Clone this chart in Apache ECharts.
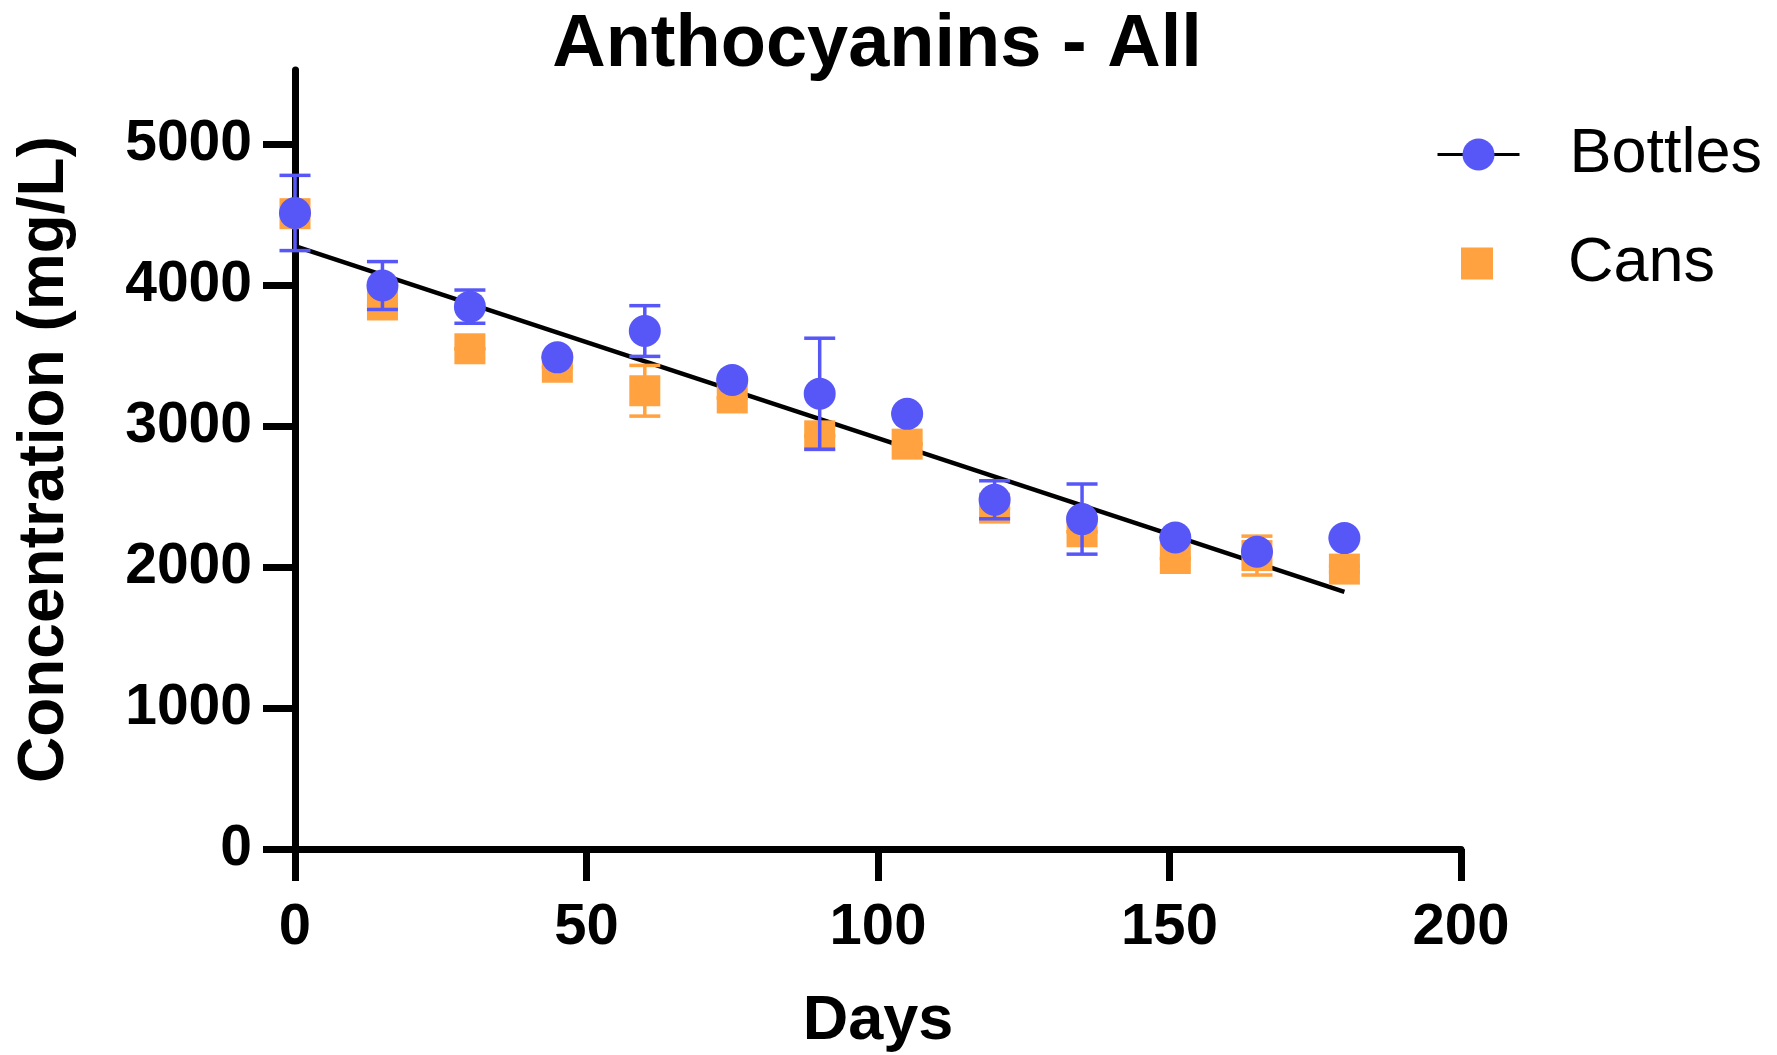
<!DOCTYPE html>
<html>
<head>
<meta charset="utf-8">
<title>Anthocyanins - All</title>
<script src="https://cdn.jsdelivr.net/npm/echarts@6/dist/echarts.min.js"></script>
<style>
html, body { margin: 0; padding: 0; background: #fff; }
#chart { width: 1777px; height: 1055px; }
</style>
</head>
<body>
<div id="chart"></div>
<script>
// sampling days and measured means / error bars (mg/L)
var days = [0, 15, 30, 45, 60, 75, 90, 105, 120, 135, 151, 165, 180];
var bottlesMean = [4515, 4000, 3850, 3490, 3677, 3330, 3232, 3089, 2479, 2342, 2211, 2111, 2207];
var bottlesErr = [267, 170, 118, 0, 180, 0, 394, 0, 135, 249, 0, 0, 0];
var cansMean = [4510, 3862, 3551, 3420, 3253, 3202, 2933, 2874, 2420, 2252, 2062, 2083, 1987];
var cansErr = [0, 0, 0, 0, 180, 0, 0, 0, 0, 0, 0, 138, 20];
// linear fit end points
var fitDays = [0, 180];
var fitValues = [4280, 1825];
var yTicks = [0, 1000, 2000, 3000, 4000, 5000];

var FONT = "'Liberation Sans', Arial, sans-serif";
var BLUE = '#5757F7';
var ORANGE = '#FFA23F';

function pairs(xs, ys) {
  return xs.map(function(x, i) { return [x, ys[i]]; });
}

// error bars drawn through the axes scales
function errorBars(mean, err, color, z) {
  var rows = days.map(function(d, i) { return [d, mean[i] - err[i], mean[i] + err[i]]; });
  return {
    type: 'custom',
    silent: true,
    z: z,
    data: rows,
    encode: { x: 0, y: [1, 2] },
    renderItem: function(params, api) {
      var x = api.value(0);
      var lo = api.coord([x, api.value(1)]);
      var hi = api.coord([x, api.value(2)]);
      var half = 15.5;
      var style = { stroke: color, lineWidth: 3.5 };
      return {
        type: 'group',
        children: [
          { type: 'line', shape: { x1: lo[0], y1: lo[1], x2: hi[0], y2: hi[1] }, style: style },
          { type: 'line', shape: { x1: lo[0] - half, y1: lo[1], x2: lo[0] + half, y2: lo[1] }, style: style },
          { type: 'line', shape: { x1: hi[0] - half, y1: hi[1], x2: hi[0] + half, y2: hi[1] }, style: style }
        ]
      };
    }
  };
}

var chart = echarts.init(document.getElementById('chart'));
var option = {
  backgroundColor: '#fff',
  animation: false,
  title: {
    text: 'Anthocyanins - All',
    left: 872,
    top: 4,
    textAlign: 'center',
    textStyle: { fontFamily: FONT, fontSize: 74, fontWeight: 'bold', color: '#000' }
  },
  legend: [{
    data: ['Bottles'],
    left: 1431,
    top: 118,
    itemWidth: 82,
    itemHeight: 40,
    selectedMode: false,
    lineStyle: { color: '#000', width: 3, opacity: 1 },
    textStyle: { fontFamily: FONT, fontSize: 63, color: '#000', padding: [0, 0, 0, 45] }
  }, {
    data: ['Cans'],
    left: 1456,
    top: 227,
    itemWidth: 32,
    itemHeight: 32,
    selectedMode: false,
    textStyle: { fontFamily: FONT, fontSize: 63, color: '#000', padding: [0, 0, 0, 70] }
  }],
  grid: {
    left: 295,
    right: 316,
    top: 70,
    bottom: 206,
    containLabel: false,
    outerBoundsMode: 'none'
  },
  xAxis: {
    type: 'value',
    min: 0,
    max: 200,
    interval: 50,
    name: 'Days',
    nameLocation: 'middle',
    nameGap: 141,
    nameTextStyle: { fontFamily: FONT, fontSize: 63, fontWeight: 'bold', color: '#000' },
    axisLine: { lineStyle: { color: '#000', width: 7 } },
    axisTick: { length: 32, lineStyle: { color: '#000', width: 7 } },
    axisLabel: { fontFamily: FONT, fontSize: 58, fontWeight: 'bold', color: '#000', margin: 50 },
    splitLine: { show: false }
  },
  yAxis: {
    type: 'value',
    min: 0,
    max: 5530,
    interval: 1000,
    name: 'Concentration (mg/L)',
    nameLocation: 'middle',
    nameRotate: 90,
    nameGap: 218,
    nameTextStyle: { fontFamily: FONT, fontSize: 64, fontWeight: 'bold', color: '#000' },
    axisLine: { show: true, lineStyle: { color: '#000', width: 7 } },
    axisTick: { show: true, length: 32, customValues: yTicks, lineStyle: { color: '#000', width: 7 } },
    axisLabel: {
      fontFamily: FONT, fontSize: 57, fontWeight: 'bold', color: '#000', margin: 43,
      customValues: yTicks,
      formatter: function(v) { return String(v); }
    },
    splitLine: { show: false }
  },
  series: [
    {
      name: 'fit',
      type: 'line',
      z: 1,
      silent: true,
      symbol: 'none',
      data: pairs(fitDays, fitValues),
      lineStyle: { color: '#000', width: 4.5 }
    },
    errorBars(cansMean, cansErr, ORANGE, 2),
    {
      name: 'Cans',
      type: 'scatter',
      z: 3,
      symbol: 'rect',
      symbolSize: 31,
      data: pairs(days, cansMean),
      itemStyle: { color: ORANGE, opacity: 1 }
    },
    errorBars(bottlesMean, bottlesErr, BLUE, 4),
    {
      name: 'Bottles',
      type: 'line',
      z: 5,
      symbol: 'circle',
      symbolSize: 32,
      showSymbol: true,
      data: pairs(days, bottlesMean),
      lineStyle: { width: 0, opacity: 0 },
      itemStyle: { color: BLUE, opacity: 1 }
    }
  ]
};
chart.setOption(option);
</script>
</body>
</html>
